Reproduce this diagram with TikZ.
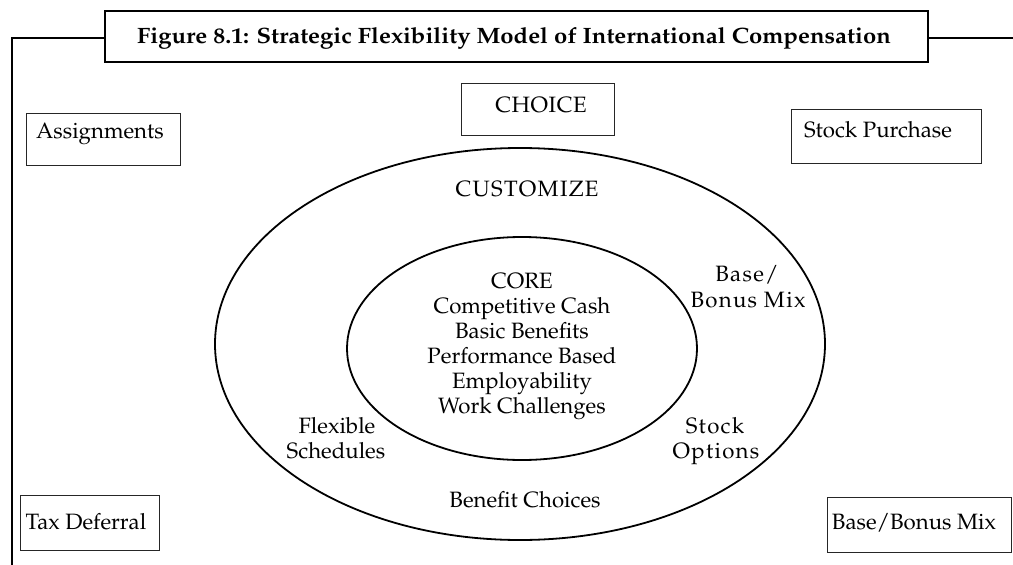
\documentclass[tikz,border=0pt]{standalone}
\usepackage[T1]{fontenc}
\usepackage{mathpazo}
\usetikzlibrary{shapes.geometric}
\newcommand\tk{\kern1.3pt}
\tikzset{
  x=1pt, y=-1pt,
  lbl/.style={anchor=base, inner sep=0pt, font=\fontsize{22.2}{26}\selectfont},
  boxnode/.style={draw=black!85, line width=1.1pt, inner sep=0pt, anchor=north west},
  ring/.style={draw, ellipse, line width=1.8pt, inner sep=0pt},
  frameline/.style={line width=2pt}
}
\begin{document}
\begin{tikzpicture}
\useasboundingbox (0,0) rectangle (1013,565);
% title and frame
\node[draw, line width=2pt, minimum width=823pt, minimum height=51pt, inner sep=0pt] (title) at (516.5,36.5) {};
\node[lbl, font=\fontsize{22.2}{26}\selectfont\bfseries] (titletext) at (514,43) {\scalebox{1.075}[1]{Figure 8.1: Strategic Flexibility Model of International Compensation}};
\coordinate (fl) at (12,38);
\coordinate (fb) at (12,565);
\coordinate (fr) at (1013,38);
\draw[frameline] (title.west |- fl) -- (fl) -- (fb);
\draw[frameline] (title.east |- fr) -- (fr);
% ellipses
\node[ring, minimum width=610pt, minimum height=392pt] (outer) at (520,344) {};
\node[ring, minimum width=350pt, minimum height=223pt] (inner) at (522,348.5) {};
% boxes
\node[boxnode, minimum width=154pt, minimum height=52pt] (assignbox) at (26,113) {};
\node[lbl] (assign) at (100,138) {Assignments};
\node[boxnode, minimum width=153pt, minimum height=52pt] (choicebox) at (461,83) {};
\node[lbl] (choice) at (541,112) {C\kern0.6pt H\kern0.6pt O\kern0.6pt I\kern0.6pt C\kern0.6pt E};
\node[boxnode, minimum width=190pt, minimum height=54pt] (stockbox) at (791,109) {};
\node[lbl] (stockp) at (878,137) {Stock Purchase};
\node[boxnode, minimum width=139pt, minimum height=55pt] (taxbox) at (20,495) {};
\node[lbl] (tax) at (86,529) {Tax Deferral};
\node[boxnode, minimum width=184pt, minimum height=55pt] (bbbox) at (827,497) {};
\node[lbl] (bb) at (914,529) {Base/Bonus Mix};
% ring labels
\node[lbl] (customize) at (527,196) {C\tk U\tk S\tk T\tk O\tk M\tk I\tk Z\tk E};
\node[lbl] (benefit) at (525,507) {Benefit Choices};
\node[lbl] (flex1) at (337,433) {Flexible};
\node[lbl] (flex2) at (336,458) {Schedules};
\node[lbl] (bbm1) at (747,281) {B\tk a\tk s\tk e\tk /};
\node[lbl] (bbm2) at (748,307) {B\tk o\tk n\tk u\tk s\tk\ M\tk i\tk x};
\node[lbl] (so1) at (715,433) {S\tk t\tk o\tk c\tk k};
\node[lbl] (so2) at (716,458) {O\tk p\tk t\tk i\tk o\tk n\tk s};
% core
\node[lbl] (core1) at (522,288) {CORE};
\node[lbl] (core2) at (522,313) {Competitive Cash};
\node[lbl] (core3) at (522,338) {Basic Benefits};
\node[lbl] (core4) at (522,363) {Performance Based};
\node[lbl] (core5) at (522,388) {Employability};
\node[lbl] (core6) at (522,413) {Work Challenges};
\end{tikzpicture}
\end{document}
